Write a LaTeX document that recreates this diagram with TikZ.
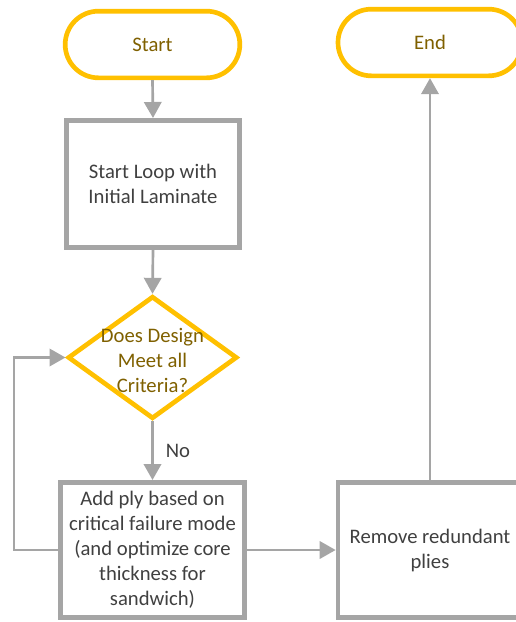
\documentclass[tikz,border=0pt]{standalone}
\usepackage{fontspec}
\setmainfont{Carlito}
\usetikzlibrary{arrows.meta,shapes.geometric}
\definecolor{termColor}{HTML}{FFC000}
\definecolor{termText}{HTML}{7F6000}
\definecolor{procColor}{HTML}{A5A5A5}
\definecolor{procText}{HTML}{404040}
\newcommand{\smashtext}[1]{\makebox[0pt]{\smash{\raisebox{-7.5pt}{\begin{tabular}{@{}c@{}}#1\end{tabular}}}}}

\begin{document}
\begin{tikzpicture}[x=0.75pt,y=-0.75pt,->,>={Triangle[length=12pt,width=13pt]},
		font=\fontsize{15.5pt}{18.75pt}\selectfont,
		terminal/.style={draw=termColor,line width=3.5pt,rounded corners=25pt,
			minimum width=131pt,minimum height=50pt,text=termText},
		process/.style={draw=procColor,line width=3.5pt,align=center,text=procText,
			minimum width=138pt,minimum height=101.5pt},
		decision/.style={draw=termColor,line width=3.5pt,diamond,inner sep=0pt,
			minimum width=127pt,minimum height=92pt,text=termText},
		flow/.style={draw=procColor,line width=2pt}]
	\useasboundingbox (0,0) rectangle (515,622);
	\node[terminal] (start) at (152.5,44.5) {Start};
	\node[terminal, minimum width=138pt] (end) at (430,42.5) {End};
	\node[process, minimum width=130pt, minimum height=95.5pt] (loop) at (153,184) {Start Loop with\\Initial Laminate};
	\node[decision] (dec) at (152.5,357.5) {\smashtext{Does Design\\Meet all\\Criteria?}};
	\node[process] (add) at (152.5,550) {Add ply based on\\critical failure mode\\(and optimize core\\thickness for\\sandwich)};
	\node[process] (remove) at (430,550) {Remove redundant\\plies};
	\coordinate (fb) at (14,0);
	
	\path (start.south) edge[flow] (loop.north);
	\path (loop.south) edge[flow] (dec.north);
	\path (dec.south) edge[flow] node[right,text=procText,inner sep=9pt] {No} (add.north);
	\path (add.east) edge[flow] (remove.west);
	\path (remove.north) edge[flow] (end.south);
	\draw[flow] (add.west) -- (add.west -| fb) |- (dec.west);
\end{tikzpicture}
\end{document}
